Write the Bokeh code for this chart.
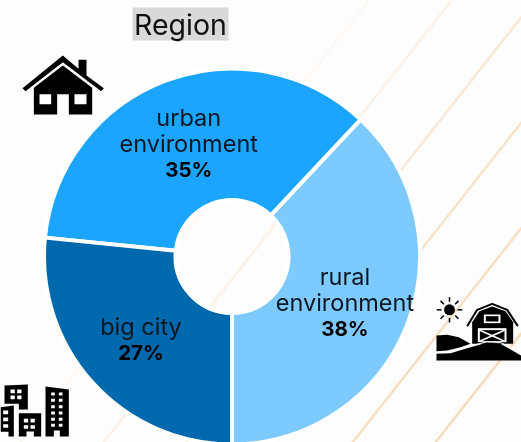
import math
from bokeh.plotting import figure
from bokeh.models import Range1d, ColumnDataSource
from bokeh.core.properties import value
from bokeh.embed import file_html
from bokeh.resources import INLINE

# ---- data ----
categories = ["rural\nenvironment", "urban\nenvironment", "big city"]
shares = [38.0, 35.4, 26.6]
share_labels = ["38%", "35%", "27%"]
slice_colors = ["#7dcaff", "#1ca5ff", "#0069ad"]
title_text = "Region"

W, H = 521, 442
FONT = "Inter"
INK = "#0d1620"

p = figure(width=W, height=H, x_range=Range1d(0, W), y_range=Range1d(0, H),
           output_backend="svg", toolbar_location=None, min_border=0,
           background_fill_color="#fdfdfd",
           border_fill_color="#fdfdfd", outline_line_color=None)
p.styles = {"position": "fixed", "left": "0px", "top": "0px"}
p.axis.visible = False
p.grid.visible = False


def Y(v):
    return H - v


# ---- diagonal background stripes: x at top edge, colour ----
STRIPE_SLOPE = 1.27
for x_top, col in [(368, "#fdf8f3"), (451, "#fcf2e8"), (534, "#fae9d6"),
                   (617, "#f9e3c9"), (700, "#f8dfc2"), (783, "#f7dcbc")]:
    xs = [x_top, x_top - (H / STRIPE_SLOPE)]
    p.line(xs, [Y(0), Y(H)], line_color=col, line_width=2.5)

# ---- donut ----
CX, CY, R_OUT, R_IN = 231.5, Y(256), 188, 56.5
total = sum(shares)
start = []
end = []
acc = 0.0
for s in shares:
    # measured counter-clockwise from the bottom of the ring
    start.append(-math.pi / 2 + acc * 2 * math.pi / total)
    acc += s
    end.append(-math.pi / 2 + acc * 2 * math.pi / total)
src = ColumnDataSource(dict(start=start, end=end, color=slice_colors))
p.annulus(x=CX, y=CY, inner_radius=R_OUT - 1, outer_radius=R_OUT + 2,
          fill_color="#ffffff", line_color=None)
p.annular_wedge(x=CX, y=CY, inner_radius=R_IN, outer_radius=R_OUT,
                start_angle="start", end_angle="end", direction="anticlock",
                fill_color="color", line_color="#ffffff", line_width=4, source=src)

# ---- labels at the mid-radius of each slice ----
R_LABEL = 122
LINE = 26
for name, lab, a0, a1 in zip(categories, share_labels, start, end):
    mid = (a0 + a1) / 2
    lx = CX + R_LABEL * math.cos(mid) - 0.5
    ly = CY + R_LABEL * math.sin(mid)
    lines = name.split("\n")
    n = len(lines) + 1
    top = ly + (n - 1) * LINE / 2 - 1
    for i, t in enumerate(lines):
        p.text([lx], [top - i * LINE], text=[t], text_font=value(FONT), text_font_size="23.5px",
               text_color=INK, text_align="center", text_baseline="middle")
    p.text([lx], [top - (n - 1) * LINE], text=[lab], text_font=value(FONT), text_font_size="20.5px",
           text_font_style="bold", text_color="#000000", text_align="center", text_baseline="middle")

# ---- title ----
p.quad(left=132, right=228, top=Y(7), bottom=Y(40), fill_color="#d9d9d9", line_color=None)
p.text([180], [Y(24)], text=[title_text], text_font=value(FONT), text_font_size="28.5px",
       text_color="#111111", text_align="center", text_baseline="middle")


# ---- icons, traced in 3x crop coordinates ----
def shape(points, ox, oy, color="#000000"):
    p.patch([ox + a / 3 for a, b in points], [Y(oy + b / 3) for a, b in points],
            fill_color=color, line_color=None)


def box(x0, y0, x1, y1, ox, oy, color="#ffffff"):
    shape([(x0, y0), (x1, y0), (x1, y1), (x0, y1)], ox, oy, color)


def stroke(points, ox, oy, width, color="#000000"):
    p.line([ox + a / 3 for a, b in points], [Y(oy + b / 3) for a, b in points],
           line_color=color, line_width=width)


# house
shape([(66, 263), (187, 165), (234, 205), (234, 178), (258, 178), (258, 225), (310, 263),
       (302, 272), (187, 185), (75, 272)], 0, 0)
shape([(100, 342), (100, 262), (187, 195), (275, 262), (275, 342), (205, 342), (205, 281),
       (170, 281), (170, 342)], 0, 0)
box(117, 281, 152, 311, 0, 0)
box(222, 281, 258, 311, 0, 0)

# buildings
bx, by = 0, 370
shape([(12, 45), (82, 42), (82, 117), (55, 117), (55, 100), (12, 100)], bx, by)
for x0 in (30, 50):
    for y0 in (57, 75):
        box(x0, y0, x0 + 13, y0 + 11, bx, by)
shape([(0, 110), (40, 105), (40, 198), (24, 198), (24, 184), (0, 184)], bx, by)
for y0 in (120, 141, 161):
    box(8, y0, 23, y0 + 11, bx, by)
shape([(55, 128), (122, 128), (122, 198), (100, 198), (100, 183), (78, 183), (78, 198), (55, 198)], bx, by)
for x0 in (70, 90):
    for y0 in (145, 164):
        box(x0, y0, x0 + 13, y0 + 11, bx, by)
shape([(135, 48), (205, 57), (205, 198), (178, 198), (178, 180), (160, 180), (160, 198), (135, 198)], bx, by)
for x0 in (152, 175):
    for y0 in (66, 85, 104, 123, 142, 160):
        box(x0, y0, x0 + 11, y0 + 9, bx, by)

# barn
fx, fy = 400, 280
shape([(108, 165), (140, 163), (175, 170), (210, 190), (180, 200), (140, 210), (108, 212)], fx, fy)
shape([(215, 190), (215, 125), (237, 92), (275, 78), (315, 92), (338, 125), (338, 190)], fx, fy)
shape([(108, 220), (150, 218), (200, 203), (260, 186), (300, 190), (362, 225), (362, 240), (108, 240)], fx, fy)
stroke([(200, 137), (230, 88), (275, 70), (320, 88), (352, 137)], fx, fy, 2.0)
box(250, 102, 300, 128, fx, fy)
box(256, 107, 294, 123, fx, fy, "#000000")
box(232, 143, 318, 185, fx, fy)
box(238, 149, 312, 182, fx, fy, "#000000")
stroke([(238, 149), (312, 182)], fx, fy, 1.6, "#ffffff")
stroke([(312, 149), (238, 182)], fx, fy, 1.6, "#ffffff")
stroke([(108, 216), (150, 214), (200, 198), (260, 184), (300, 186), (340, 205)], fx, fy, 1.0, "#ffffff")
# sun
p.circle([fx + 147 / 3], [Y(fy + 88 / 3)], radius=5.5, fill_color="#000000", line_color=None)
for k in range(8):
    a = k * math.pi / 4
    stroke([(147 + 24 * math.cos(a), 88 + 24 * math.sin(a)),
            (147 + 38 * math.cos(a), 88 + 38 * math.sin(a))], fx, fy, 1.5)

open("out.html", "w").write(file_html(p, INLINE))
